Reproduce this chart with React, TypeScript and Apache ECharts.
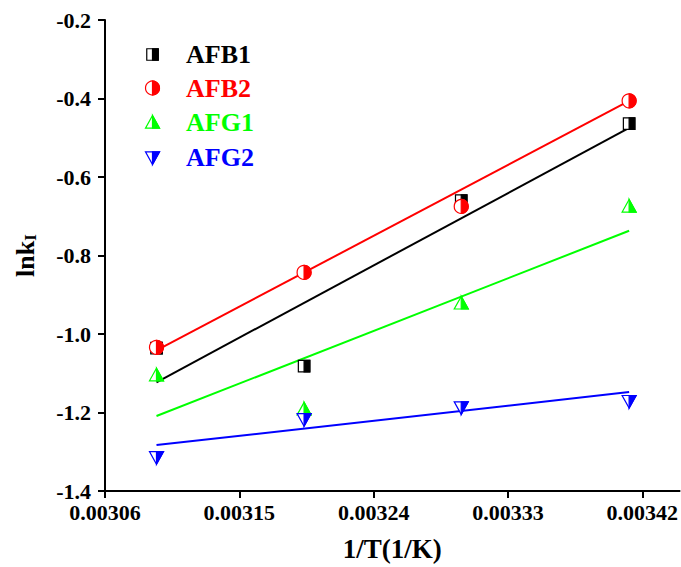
import React, { useEffect, useRef } from "react";
import * as echarts from "echarts";

const xValues = [0.0030945, 0.0031934, 0.0032987, 0.0034112];
const seriesNames = ["AFB1", "AFB2", "AFG1", "AFG2"];
const afb1 = [-1.036, -1.082, -0.66, -0.464];
const afb2 = [-1.034, -0.843, -0.675, -0.406];
const afg1 = [-1.105, -1.192, -0.922, -0.675];
const afg2 = [-1.314, -1.217, -1.187, -1.171];
const fitX = [0.0030945, 0.0034112];
const afb1Fit = [-1.123, -0.475];
const afb2Fit = [-1.042, -0.406];
const afg1Fit = [-1.209, -0.737];
const afg2Fit = [-1.283, -1.148];
const xTicks = [0.00306, 0.00315, 0.00324, 0.00333, 0.00342];

const colors = ["#000000", "#ff0000", "#00ff00", "#0000ff"];
const shapes = ["square", "circle", "triangle", "triangleDown"];
const FONT = "Liberation Serif";

function markerEls(shape: string, color: string, cx: number, cy: number, s: number): any[] {
  const h = s / 2;
  const lw = 1.2;
  if (shape === "square") {
    const a = h * 0.82;
    return [
      { type: "rect", shape: { x: cx - a, y: cy - a, width: 2 * a, height: 2 * a }, style: { fill: "#fff", stroke: color, lineWidth: lw } },
      { type: "rect", shape: { x: cx, y: cy - a, width: a, height: 2 * a }, style: { fill: color, stroke: color, lineWidth: lw } },
    ];
  }
  if (shape === "circle") {
    return [
      { type: "circle", shape: { cx, cy, r: h }, style: { fill: "#fff", stroke: color, lineWidth: lw } },
      { type: "sector", shape: { cx, cy, r: h, r0: 0, startAngle: -Math.PI / 2, endAngle: Math.PI / 2, clockwise: true }, style: { fill: color, stroke: color, lineWidth: lw } },
    ];
  }
  if (shape === "triangle") {
    return [
      { type: "polygon", shape: { points: [[cx, cy - h], [cx + h, cy + h * 0.8], [cx - h, cy + h * 0.8]] }, style: { fill: "#fff", stroke: color, lineWidth: lw } },
      { type: "polygon", shape: { points: [[cx, cy - h], [cx + h, cy + h * 0.8], [cx, cy + h * 0.8]] }, style: { fill: color, stroke: color, lineWidth: lw } },
    ];
  }
  return [
    { type: "polygon", shape: { points: [[cx - h, cy - h * 0.8], [cx + h, cy - h * 0.8], [cx, cy + h]] }, style: { fill: "#fff", stroke: color, lineWidth: lw } },
    { type: "polygon", shape: { points: [[cx, cy - h * 0.8], [cx + h, cy - h * 0.8], [cx, cy + h]] }, style: { fill: color, stroke: color, lineWidth: lw } },
  ];
}

export default function App() {
  const ref = useRef<HTMLDivElement>(null);
  useEffect(() => {
    document.body.style.margin = "0";
    if (!ref.current) return;
    const chart = echarts.init(ref.current, undefined, { renderer: "svg" });
    const pointSets = [afb1, afb2, afg1, afg2];
    const fitSets = [afb1Fit, afb2Fit, afg1Fit, afg2Fit];

    const lineSeries = fitSets.map((ys, i) => ({
      type: "line",
      name: seriesNames[i] + " fit",
      data: fitX.map((x, j) => [x, ys[j]]),
      symbol: "none",
      lineStyle: { color: colors[i], width: 2 },
      z: 2,
    }));

    const markerSeries = pointSets.map((ys, i) => ({
      type: "custom",
      name: seriesNames[i],
      data: xValues.map((x, j) => [x, ys[j]]),
      encode: { x: 0, y: 1 },
      z: 3,
      renderItem: (params: any, api: any) => {
        const p = api.coord([api.value(0), api.value(1)]);
        return { type: "group", children: markerEls(shapes[i], colors[i], p[0], p[1], 14) };
      },
    }));

    const legendY = [54.5, 88, 122.5, 157.5];
    const legendEls: any[] = [];
    seriesNames.forEach((name, i) => {
      legendEls.push({
        type: "group",
        children: [
          ...markerEls(shapes[i], colors[i], 152.5, legendY[i], 14),
          {
            type: "text",
            x: 186,
            y: legendY[i],
            style: { text: name, fill: colors[i], fontFamily: FONT, fontWeight: "bold", fontSize: 26, verticalAlign: "middle" },
          },
        ],
      });
    });

    chart.setOption({
      animation: false,
      backgroundColor: "#fff",
      grid: { left: 105, top: 20, right: 1, bottom: 75, containLabel: false },
      xAxis: {
        type: "value",
        min: 0.00306,
        max: 0.003445,
        interval: 0.00009,
        name: "1/T(1/K)",
        nameLocation: "middle",
        nameGap: 44,
        nameTextStyle: { fontFamily: FONT, fontWeight: "bold", fontSize: 27, color: "#000" },
        axisLine: { lineStyle: { color: "#000", width: 2 } },
        axisTick: { show: true, inside: false, length: 7, lineStyle: { width: 2, color: "#000" }, customValues: xTicks },
        axisLabel: {
          customValues: xTicks,
          margin: 10,
          fontFamily: FONT,
          fontWeight: "bold",
          fontSize: 22,
          color: "#000",
          formatter: (v: number) => v.toFixed(5),
        },
        splitLine: { show: false },
      },
      yAxis: {
        type: "value",
        min: -1.4,
        max: -0.2,
        interval: 0.2,
        name: "lnk{sub|I}",
        nameLocation: "middle",
        nameGap: 66,
        nameRotate: 90,
        nameTextStyle: {
          fontFamily: FONT,
          fontWeight: "bold",
          fontSize: 26,
          color: "#000",
          rich: { sub: { fontFamily: FONT, fontWeight: "bold", fontSize: 17, color: "#000", verticalAlign: "bottom", padding: [10, 0, 0, 0] } },
        },
        axisLine: { show: true, lineStyle: { color: "#000", width: 2 } },
        axisTick: { show: true, inside: false, length: 7, lineStyle: { width: 2, color: "#000" } },
        axisLabel: {
          margin: 14,
          fontFamily: FONT,
          fontWeight: "bold",
          fontSize: 22,
          color: "#000",
          formatter: (v: number) => v.toFixed(1),
        },
        splitLine: { show: false },
      },
      graphic: legendEls,
      series: [...lineSeries, ...markerSeries],
    } as any);
    return () => chart.dispose();
  }, []);
  return <div ref={ref} style={{ width: 681, height: 567 }} />;
}
